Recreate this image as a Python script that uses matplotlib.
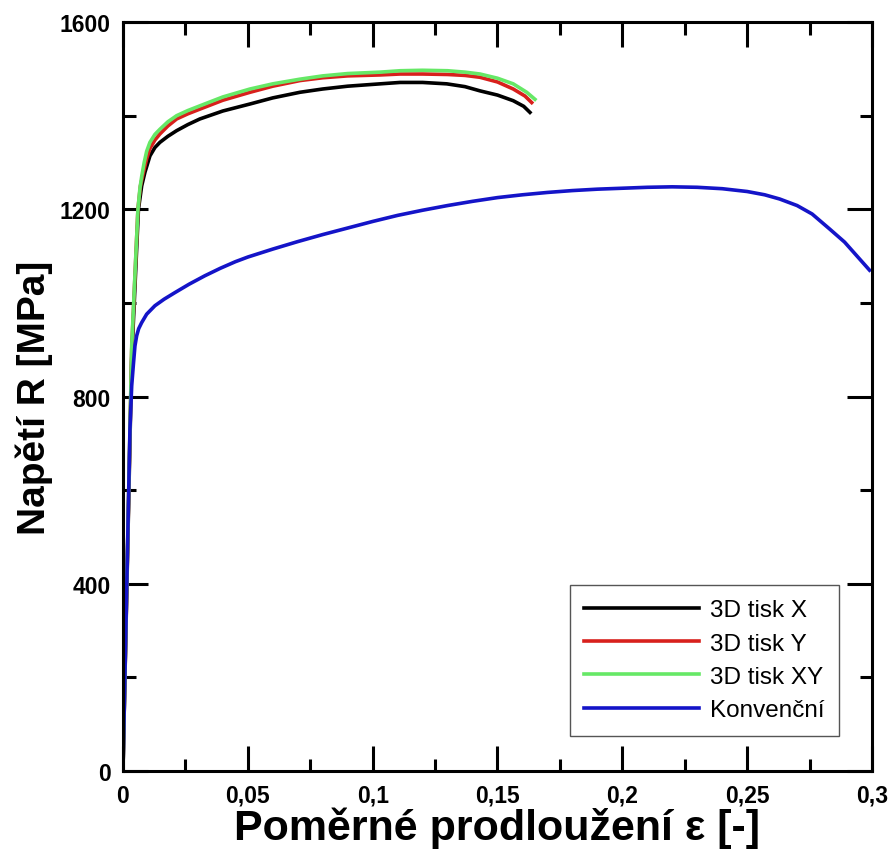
import numpy as np
import matplotlib
matplotlib.use("Agg")
import matplotlib.pyplot as plt
from matplotlib import font_manager as fm
from matplotlib.ticker import MultipleLocator, FuncFormatter

# tahové zkoušky - poměrné prodloužení [-] a napětí [MPa]
eps_x = [0, 0.0035, 0.0062, 0.0075, 0.0088, 0.0108, 0.0128, 0.0148, 0.018, 0.0215, 0.026,
         0.0308, 0.04, 0.0509, 0.06, 0.0709, 0.08, 0.09, 0.103, 0.111, 0.12, 0.1297, 0.137,
         0.143, 0.150, 0.1563, 0.1605, 0.163]
sig_x = [0, 880, 1200, 1250, 1279, 1314, 1332, 1343, 1356, 1368, 1381,
         1393, 1410, 1425, 1438, 1450, 1457, 1463, 1468, 1471, 1471, 1468, 1462,
         1453, 1444, 1432, 1420, 1407]

eps_y = [0, 0.0035, 0.006, 0.007, 0.0082, 0.0095, 0.0108, 0.0128, 0.0148, 0.018, 0.0215, 0.026,
         0.0308, 0.04, 0.0509, 0.06, 0.0709, 0.08, 0.09, 0.103, 0.111, 0.12, 0.13, 0.137,
         0.143, 0.150, 0.1563, 0.161, 0.1637]
sig_y = [0, 900, 1200, 1250, 1279, 1308, 1330, 1348, 1361, 1378, 1393, 1404,
         1414, 1433, 1450, 1463, 1475, 1481, 1485, 1487, 1489, 1489, 1488, 1486,
         1482, 1472, 1457, 1442, 1428]

eps_xy = [0, 0.0035, 0.006, 0.0068, 0.0075, 0.0085, 0.0095, 0.0108, 0.0128, 0.0148, 0.018, 0.0215,
          0.026, 0.0308, 0.04, 0.0509, 0.06, 0.0709, 0.08, 0.09, 0.103, 0.111, 0.12, 0.13,
          0.137, 0.143, 0.150, 0.1563, 0.1617, 0.165]
sig_xy = [0, 908, 1200, 1245, 1270, 1300, 1324, 1343, 1360, 1371, 1387, 1400,
          1411, 1421, 1440, 1457, 1468, 1478, 1485, 1490, 1493, 1496, 1497, 1496,
          1493, 1489, 1480, 1468, 1450, 1435]

eps_k = [0, 0.0015, 0.0028, 0.0035, 0.0042, 0.0048, 0.0055, 0.0063, 0.0075, 0.0095, 0.0128,
         0.0165, 0.0208, 0.0265, 0.0328, 0.039, 0.045, 0.05, 0.06, 0.07, 0.08, 0.09, 0.1,
         0.11, 0.12, 0.13, 0.14, 0.15, 0.16, 0.17, 0.18, 0.19, 0.2, 0.21, 0.22, 0.23,
         0.24, 0.25, 0.257, 0.263, 0.27, 0.276, 0.283, 0.289, 0.294, 0.299]
sig_k = [0, 390, 730, 823, 870, 908, 930, 945, 958, 976, 994,
         1008, 1022, 1040, 1058, 1074, 1088, 1098, 1115, 1131, 1146, 1160, 1174,
         1187, 1198, 1208, 1217, 1225, 1231, 1236, 1240, 1243, 1245, 1247, 1248, 1247,
         1244, 1238, 1231, 1222, 1208, 1190, 1158, 1130, 1100, 1070]

nazvy = {f.name for f in fm.fontManager.ttflist}
tick_font = "Liberation Sans Narrow" if "Liberation Sans Narrow" in nazvy else "Liberation Sans"
tick_size = 18.5 if tick_font == "Liberation Sans Narrow" else 16.5

fig = plt.figure(figsize=(8.91, 8.54), dpi=100)
ax = fig.add_axes([0.138, 0.096, 0.8407, 0.877])

ax.plot(eps_x, sig_x, color="#000000", lw=2.6, label="3D tisk X")
ax.plot(eps_y, sig_y, color="#d8201c", lw=2.6, label="3D tisk Y")
ax.plot(eps_xy, sig_xy, color="#66e866", lw=2.6, label="3D tisk XY")
ax.plot(eps_k, sig_k, color="#1414c8", lw=2.6, label="Konvenční")

ax.set_xlim(0, 0.3)
ax.set_ylim(0, 1600)
ax.xaxis.set_major_locator(MultipleLocator(0.05))
ax.xaxis.set_minor_locator(MultipleLocator(0.025))
ax.yaxis.set_major_locator(MultipleLocator(400))
ax.yaxis.set_minor_locator(MultipleLocator(200))
ax.xaxis.set_major_formatter(FuncFormatter(lambda v, p: ("%g" % round(v, 3)).replace(".", ",")))
ax.yaxis.set_major_formatter(FuncFormatter(lambda v, p: "%d" % v))

ax.tick_params(which="both", direction="in", top=True, right=True, width=2.2, pad=9)
ax.tick_params(which="major", length=18)
ax.tick_params(which="minor", length=9)
for lab in ax.get_xticklabels() + ax.get_yticklabels():
    lab.set_family(tick_font)
    lab.set_fontweight("bold")
    lab.set_fontsize(tick_size)
for s in ax.spines.values():
    s.set_linewidth(2.2)

ax.set_xlabel("Poměrné prodloužení ε [-]", family="Liberation Sans", fontweight="bold",
              fontsize=31, labelpad=0)
ax.set_ylabel("Napětí R [MPa]", family="Liberation Sans", fontweight="bold",
              fontsize=28, labelpad=5)

leg = ax.legend(loc="lower right", bbox_to_anchor=(0.9717, 0.031), fontsize=17.5,
                handlelength=4.74, handletextpad=0.42, labelspacing=0.46,
                fancybox=False, framealpha=1, borderpad=0.6)
leg.get_frame().set_edgecolor("#555555")
leg.get_frame().set_linewidth(1.0)
for t in leg.get_texts():
    t.set_family("Liberation Sans")

fig.savefig("out.png", dpi=100)
